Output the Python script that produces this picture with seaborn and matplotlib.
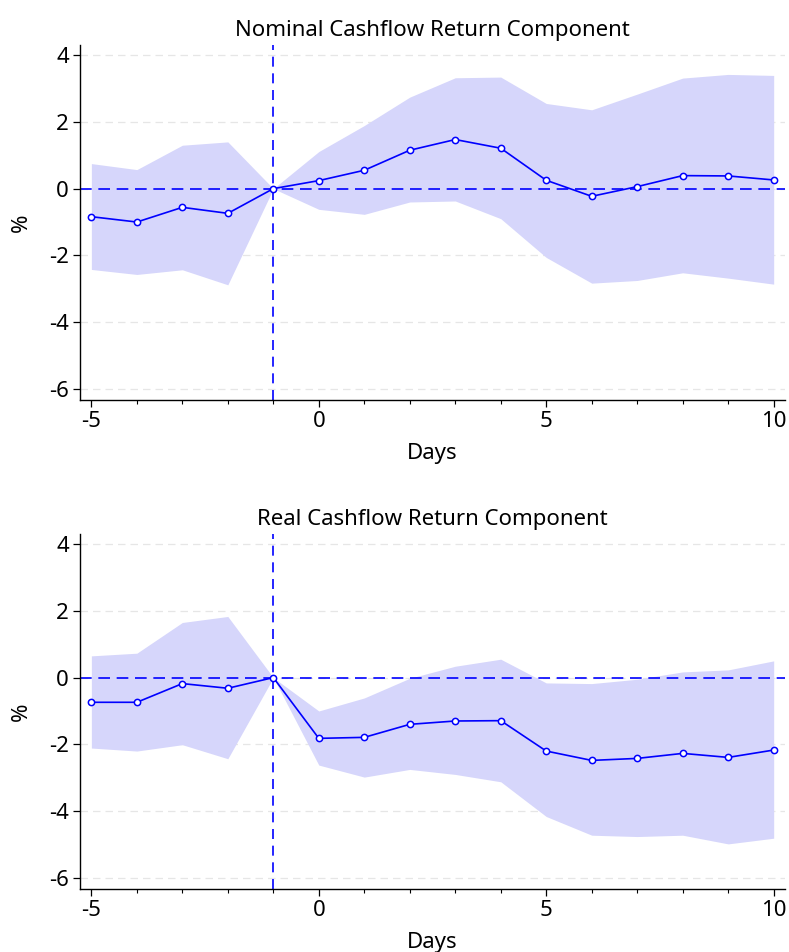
import numpy as np
import pandas as pd
import matplotlib
matplotlib.use("Agg")
import matplotlib.pyplot as plt
import seaborn as sns
from matplotlib.ticker import MultipleLocator

# Event-window days
days = [-5, -4, -3, -2, -1, 0, 1, 2, 3, 4, 5, 6, 7, 8, 9, 10]

# Nominal cashflow return component (%)
nominal_est = [-0.84, -1.00, -0.56, -0.74, 0.00, 0.24, 0.55, 1.15, 1.47, 1.21,
               0.25, -0.23, 0.06, 0.39, 0.38, 0.26]
nominal_hi = [0.75, 0.57, 1.30, 1.40, 0.00, 1.11, 1.89, 2.74, 3.32, 3.34,
              2.55, 2.36, 2.83, 3.31, 3.42, 3.39]
nominal_lo = [-2.42, -2.57, -2.43, -2.88, 0.00, -0.62, -0.77, -0.40, -0.37, -0.90,
              -2.06, -2.83, -2.75, -2.52, -2.68, -2.86]

# Real cashflow return component (%)
real_est = [-0.74, -0.74, -0.18, -0.32, 0.00, -1.82, -1.79, -1.40, -1.30, -1.29,
            -2.20, -2.48, -2.42, -2.27, -2.39, -2.17]
real_hi = [0.65, 0.73, 1.65, 1.83, 0.00, -1.00, -0.61, -0.02, 0.34, 0.55,
           -0.16, -0.18, -0.05, 0.17, 0.23, 0.50]
real_lo = [-2.11, -2.20, -2.01, -2.43, 0.00, -2.62, -2.98, -2.75, -2.90, -3.12,
           -4.16, -4.72, -4.76, -4.72, -4.98, -4.81]

titles = ["Nominal Cashflow Return Component", "Real Cashflow Return Component"]
yticks = [-6, -4, -2, 0, 2, 4]
xticks = [-5, 0, 5, 10]

sns.set_style("ticks")
plt.rcParams['font.family'] = ['Noto Sans', 'DejaVu Sans']
plt.rcParams['axes.unicode_minus'] = False
for key in ['text.color', 'axes.labelcolor', 'xtick.color', 'ytick.color']:
    plt.rcParams[key] = 'black'

fs = 16

fig = plt.figure(figsize=(7.89, 9.52), dpi=100)
ax1 = fig.add_axes([0.1014, 0.5798, 0.8936, 0.3729])
ax2 = fig.add_axes([0.1014, 0.0662, 0.8936, 0.3729])

panels = [(ax1, nominal_est, nominal_lo, nominal_hi),
          (ax2, real_est, real_lo, real_hi)]

for (ax, est, lo, hi), title in zip(panels, titles):
    df = pd.DataFrame({'day': days, 'est': est, 'lo': lo, 'hi': hi})
    ax.fill_between(df['day'], df['lo'], df['hi'], color='#d6d6fb', linewidth=0, zorder=1)
    for y in yticks:
        ax.axhline(y, color='#e6e6e6', linewidth=0.9, linestyle=(0, (6, 4)), zorder=0)
    ax.axhline(0, color='#0000ff', linewidth=1.2, linestyle=(0, (7, 4)), zorder=2)
    ax.axvline(-1, color='#0000ff', linewidth=1.2, linestyle=(0, (6, 4)), zorder=2)
    sns.lineplot(data=df, x='day', y='est', ax=ax, color='#0000ff', linewidth=1.2,
                 marker='o', markersize=4.5, markerfacecolor='white',
                 markeredgecolor='#0000ff', markeredgewidth=1.1, zorder=3)

    ax.set_xlim(-5.25, 10.25)
    ax.set_ylim(-6.33, 4.3)
    ax.set_xticks(xticks)
    ax.xaxis.set_minor_locator(MultipleLocator(1))
    ax.set_yticks(yticks)
    ax.tick_params(axis='both', which='major', labelsize=fs, length=5, width=0.9, pad=3)
    ax.tick_params(axis='x', which='minor', length=3, width=0.8)
    ax.set_title(title, fontsize=fs, pad=6.5)
    ax.set_xlabel('Days', fontsize=fs, labelpad=8)
    ax.set_ylabel('%', fontsize=fs, labelpad=12)
    sns.despine(ax=ax)
    for s in ['left', 'bottom']:
        ax.spines[s].set_linewidth(1.0)
        ax.spines[s].set_color('black')

fig.savefig('out.png', dpi=100)
